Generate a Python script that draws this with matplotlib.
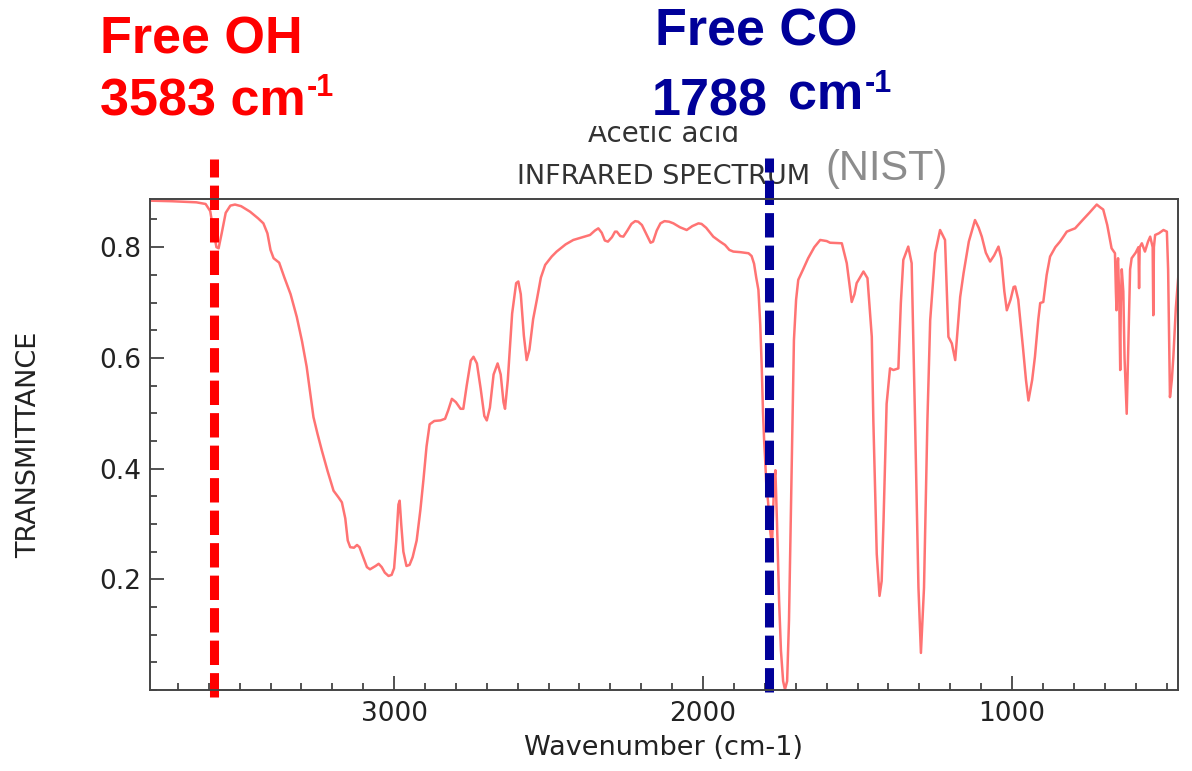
import matplotlib
matplotlib.use('Agg')
import matplotlib.pyplot as plt
from matplotlib.ticker import FixedLocator, MultipleLocator
from matplotlib.patches import Rectangle

plt.rcParams['font.family'] = ['DejaVu Sans']

# acetic acid, gas phase IR (NIST), read as wavenumber / transmittance pairs
wavenumber = [
    3790, 3720, 3640, 3610, 3595, 3585, 3575, 3568, 3558, 3545, 3530, 3515,
    3495, 3466, 3440, 3423, 3410, 3400, 3390, 3372, 3355, 3335, 3315, 3298,
    3283, 3270, 3261, 3248, 3234, 3215, 3196, 3180, 3169, 3158, 3150, 3142,
    3130, 3120, 3112, 3100, 3088, 3078, 3060, 3050, 3040, 3030, 3018, 3008,
    3000, 2993, 2986, 2982, 2977, 2970, 2960, 2950, 2940, 2927, 2915, 2905,
    2895, 2885, 2870, 2850, 2835, 2825, 2813, 2800, 2785, 2776, 2765, 2752,
    2743, 2732, 2720, 2708, 2700, 2690, 2678, 2665, 2655, 2646, 2641, 2632,
    2618, 2605, 2598, 2590, 2580, 2571, 2562, 2550, 2538, 2525, 2511, 2490,
    2474, 2445, 2420, 2390, 2366, 2350, 2339, 2328, 2318, 2308, 2295, 2285,
    2279, 2268, 2258, 2245, 2232, 2220, 2210, 2198, 2185, 2170, 2162, 2150,
    2138, 2125, 2110, 2096, 2075, 2053, 2035, 2015, 2005, 1990, 1967, 1945,
    1929, 1915, 1902, 1880, 1853, 1843, 1835, 1828, 1821, 1815, 1810, 1806,
    1802, 1799, 1795, 1790, 1783, 1777, 1770, 1766, 1761, 1754, 1748, 1741,
    1735, 1728, 1722, 1715, 1710, 1706, 1699, 1692, 1677, 1660, 1640, 1621,
    1600, 1589, 1551, 1535, 1519, 1510, 1503, 1481, 1468, 1454, 1449, 1438,
    1429, 1422, 1416, 1406, 1395, 1384, 1368, 1360, 1352, 1336, 1325, 1314,
    1303, 1295, 1285, 1274, 1265, 1249, 1233, 1217, 1206, 1195, 1184, 1168,
    1157, 1140, 1120, 1108, 1098, 1085, 1071, 1058, 1044, 1035, 1025, 1017,
    1005, 995, 990, 980, 965, 955, 947, 935, 926, 915, 909, 899,
    888, 877, 860, 845, 835, 823, 810, 796, 770, 750, 726, 715,
    705, 692, 678, 667, 664, 662, 660, 657, 653, 650, 648, 645,
    640, 636, 629, 624, 618, 613, 600, 591, 589, 587, 580, 570,
    560, 553, 545, 543, 541, 537, 525, 510, 499, 495, 489, 483,
    478, 470, 462,
]
transmittance = [
    0.884, 0.883, 0.881, 0.878, 0.865, 0.830, 0.800, 0.798, 0.825, 0.862, 0.875, 0.877,
    0.874, 0.864, 0.852, 0.843, 0.825, 0.795, 0.780, 0.772, 0.745, 0.715, 0.674, 0.630,
    0.584, 0.530, 0.493, 0.463, 0.433, 0.395, 0.360, 0.348, 0.339, 0.310, 0.270, 0.258,
    0.257, 0.262, 0.258, 0.240, 0.222, 0.218, 0.224, 0.228, 0.222, 0.212, 0.206, 0.208,
    0.220, 0.270, 0.335, 0.342, 0.300, 0.250, 0.224, 0.226, 0.240, 0.270, 0.325, 0.380,
    0.440, 0.480, 0.486, 0.487, 0.490, 0.505, 0.526, 0.520, 0.508, 0.508, 0.550, 0.595,
    0.602, 0.590, 0.545, 0.495, 0.487, 0.510, 0.570, 0.590, 0.570, 0.520, 0.508, 0.560,
    0.680, 0.735, 0.738, 0.715, 0.640, 0.596, 0.615, 0.670, 0.705, 0.745, 0.768, 0.783,
    0.792, 0.805, 0.813, 0.818, 0.822, 0.830, 0.834, 0.826, 0.812, 0.810, 0.818, 0.828,
    0.828, 0.820, 0.819, 0.830, 0.842, 0.847, 0.846, 0.840, 0.825, 0.808, 0.810, 0.830,
    0.843, 0.847, 0.846, 0.843, 0.836, 0.831, 0.838, 0.843, 0.842, 0.835, 0.819, 0.810,
    0.804, 0.795, 0.792, 0.791, 0.789, 0.784, 0.770, 0.745, 0.723, 0.660, 0.580, 0.500,
    0.445, 0.415, 0.366, 0.342, 0.288, 0.261, 0.378, 0.397, 0.306, 0.161, 0.071, 0.016,
    0.001, 0.016, 0.125, 0.342, 0.487, 0.632, 0.705, 0.741, 0.759, 0.780, 0.800, 0.813,
    0.811, 0.808, 0.807, 0.771, 0.701, 0.715, 0.735, 0.756, 0.744, 0.638, 0.487, 0.246,
    0.170, 0.197, 0.306, 0.517, 0.581, 0.578, 0.581, 0.699, 0.777, 0.801, 0.771, 0.487,
    0.185, 0.067, 0.185, 0.487, 0.668, 0.789, 0.831, 0.813, 0.638, 0.626, 0.596, 0.710,
    0.753, 0.810, 0.849, 0.835, 0.819, 0.790, 0.774, 0.785, 0.801, 0.780, 0.720, 0.686,
    0.705, 0.728, 0.729, 0.705, 0.620, 0.560, 0.523, 0.560, 0.602, 0.670, 0.699, 0.701,
    0.750, 0.783, 0.800, 0.810, 0.818, 0.828, 0.831, 0.834, 0.850, 0.862, 0.877, 0.872,
    0.868, 0.840, 0.798, 0.789, 0.720, 0.686, 0.760, 0.780, 0.700, 0.578, 0.700, 0.760,
    0.720, 0.600, 0.499, 0.620, 0.760, 0.780, 0.790, 0.800, 0.726, 0.800, 0.807, 0.792,
    0.810, 0.819, 0.800, 0.677, 0.800, 0.822, 0.825, 0.831, 0.828, 0.760, 0.529, 0.560,
    0.602, 0.690, 0.747,
]

# marked bands
free_oh = 3583
free_co = 1788
x_ticks = [3000, 2000, 1000]
y_ticks = [0.2, 0.4, 0.6, 0.8]

W, H = 1192, 771


def fx(px):
    return px / W


def fy(py):
    return 1 - py / H


fig = plt.figure(figsize=(W / 100, H / 100), dpi=100)
ax = fig.add_axes([fx(150), fy(690), 1028 / W, 491 / H])

ax.plot(wavenumber, transmittance, color='#ff5050', linewidth=1.8, alpha=0.8)

ax.set_xlim(3790, 463)
ax.set_ylim(0, 0.887)

ax.xaxis.set_major_locator(FixedLocator(x_ticks))
ax.xaxis.set_minor_locator(MultipleLocator(100))
ax.yaxis.set_major_locator(FixedLocator(y_ticks))
ax.yaxis.set_minor_locator(MultipleLocator(0.05))
ax.tick_params(which='both', direction='in', color='#444444', width=1.3)
ax.tick_params(which='major', length=10, labelsize=19, labelcolor='#222222')
ax.tick_params(which='minor', length=5)
ax.tick_params(axis='x', pad=8)
ax.tick_params(axis='y', pad=6)
for s in ax.spines.values():
    s.set_color('#444444')
    s.set_linewidth(1.4)

ax.set_xlabel('Wavenumber (cm-1)', fontsize=19.5, color='#222222')
ax.xaxis.set_label_coords(0.5, -(735 - 690) / 491)
ax.set_ylabel('TRANSMITTANCE', fontsize=19.5, color='#222222')
ax.yaxis.set_label_coords(-(150 - 42) / 1028, 0.5)

# dashed markers running past the frame
ax.axvline(free_oh, ymin=-7 / 491, ymax=(690 - 159) / 491, clip_on=False,
           color='#ff0000', linewidth=6.5, dashes=(2.7, 0.9))
ax.axvline(free_co, ymin=-2 / 491, ymax=(690 - 158) / 491, clip_on=False,
           color='#000099', linewidth=6.5, dashes=(2.7, 0.9))

# spectrum header
fig.text(fx(664), fy(142), 'Acetic acid', ha='center', va='baseline',
         fontsize=20, color='#333333', zorder=-2)
fig.patches.append(Rectangle((fx(570), fy(126)), 190 / W, 30 / H,
                             transform=fig.transFigure, facecolor='white',
                             edgecolor='none', zorder=-1))
fig.text(fx(664), fy(184), 'INFRARED SPECTRUM', ha='center', va='baseline',
         fontsize=19.5, color='#333333', zorder=-2)
fig.text(fx(825), fy(180), '(NIST)', ha='left', va='baseline',
         fontsize=30, color='#8c8c8c', family='Liberation Sans', zorder=-2)

# band labels
lab = dict(family='Liberation Sans', fontweight='bold', ha='left', va='baseline')
fig.text(fx(100), fy(53), 'Free OH', fontsize=37.5, color='#ff0000', **lab)
fig.text(fx(100), fy(115), f'{free_oh} cm', fontsize=37.5, color='#ff0000', **lab)
fig.text(fx(307), fy(96), '-1', fontsize=22, color='#ff0000', **lab)

fig.text(fx(655), fy(45), 'Free CO', fontsize=37.5, color='#000099', **lab)
fig.text(fx(652), fy(115), f'{free_co}', fontsize=37.5, color='#000099', **lab)
fig.text(fx(788), fy(110), 'cm', fontsize=37.5, color='#000099', **lab)
fig.text(fx(865), fy(92), '-1', fontsize=22, color='#000099', **lab)

fig.savefig('out.png', dpi=100, facecolor='white')
plt.close(fig)
